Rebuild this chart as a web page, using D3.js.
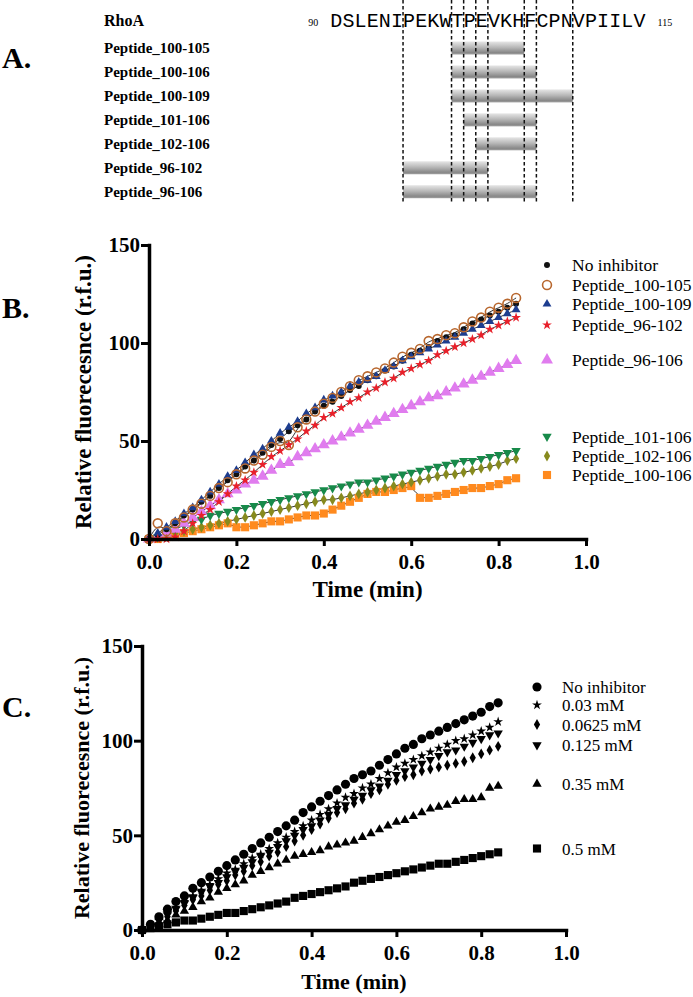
<!DOCTYPE html>
<html>
<head>
<meta charset="utf-8">
<script src="https://cdn.jsdelivr.net/npm/d3@7"></script>
<style>
  body { margin: 0; background: #fff; }
  svg { display: block; }
</style>
</head>
<body>
<div class="fig"></div>
<script>
// ---------------- data ----------------
// Panel A: RhoA residues 90-115 and the peptides tested
var firstResidue = 90;
var residueSeq = ["D","S","L","E","N","I","P","E","K","W","T","P","E","V","K","H","F","C","P","N","V","P","I","I","L","V"];
var peptideNames = ["Peptide_100-105","Peptide_100-106","Peptide_100-109","Peptide_101-106","Peptide_102-106","Peptide_96-102","Peptide_96-106"];
var peptideStart = [100, 100, 100, 101, 102, 96, 96];
var peptideEnd   = [105, 106, 109, 106, 106, 102, 106];

// Time points (min), shared by all kinetic traces
var timeMin = [0,0.02,0.04,0.06,0.08,0.10,0.12,0.14,0.16,0.18,
               0.20,0.22,0.24,0.26,0.28,0.30,0.32,0.34,0.36,0.38,
               0.40,0.42,0.44,0.46,0.48,0.50,0.52,0.54,0.56,0.58,
               0.60,0.62,0.64,0.66,0.68,0.70,0.72,0.74,0.76,0.78,
               0.80,0.82,0.84];

// Panel B: relative fluorescence (r.f.u.)
var noInhibitorB = [0,2,5,8,12,15,19,22,26,30, 33,37,40,44,48,51,55,58,61,65,
                    68,70,73,76,78,81,83,86,88,91, 94,96,98,101,103,104,107,110,112,114, 116,118,120];
var pep100_105 = [0,8,4,8,11,15,18,22,26,29, 33,36,40,43,47,50,48,57,61,65,
                  69,72,75,78,81,83,85,87,90,93, 95,97,101,102,104,105,108,111,113,116, 118,120,123];
var pep100_109 = [0,3,6,9,13,16,20,24,28,32, 35,39,43,46,50,54,57,60,64,67,
                  71,73,75,78,80,81,83,86,88,91, 93,95,97,99,101,103,105,107,109,111, 113,115,117];
var pep96_102 = [0,0,0,1,4,8,12,15,19,23, 27,30,34,38,42,45,48,51,55,58,
                 62,64,67,70,72,75,77,80,82,85, 87,89,91,94,96,98,100,102,104,107, 109,111,113];
var pep96_106 = [0,1,3,5,8,11,14,17,20,23, 25,28,30,32,35,38,39,42,44,46,
                 48,50,52,54,56,58,60,62,64,66, 68,70,72,73,75,77,79,81,83,85, 87,89,91];
var pep101_106 = [0,1,3,5,7,9,10,12,13,14, 15,16,17,18,19,20,21,22,23,24,
                  25,26,27,28,29,29,30,31,32,33, 34,35,36,37,38,39,40,40,41,42, 43,44,45];
var pep102_106 = [0,1,2,3,4,5,6,7,8,9, 10,11,12,13,14,15,16,17,18,19,
                  20,20,21,22,23,24,25,26,27,28, 29,30,31,32,33,33,34,35,36,37, 38,40,41];
var pep100_106 = [0,0,1,2,3,4,5,6,7,8, 6,6,7,8,9,9,10,11,12,12,
                  13,15,17,19,21,23,24,24,25,26, 27,21,21,22,23,24,25,26,26,27, 28,30,31];

// Panel C: concentrations of inhibitor peptide
var noInhibitorC = [0,3,7,11,15,18,22,25,28,31, 34,37,40,43,46,49,52,55,58,62,
                    65,68,71,74,77,80,82,84,87,90, 93,96,98,101,103,105,107,109,111,113, 115,118,120];
var conc003 = [0,2,5,9,12,15,18,21,24,27, 30,32,35,38,40,43,46,49,52,55,
               58,61,64,67,70,72,75,77,80,83, 86,88,90,92,94,96,98,100,101,103, 105,107,110];
var conc00625 = [0,2,4,7,10,13,16,18,21,24, 26,29,31,34,36,39,41,44,47,50,
                 53,56,59,62,64,67,69,72,74,77, 79,81,82,84,85,86,87,88,89,91, 93,95,97];
var conc0125 = [0,2,5,8,11,14,17,20,23,25, 28,31,33,36,39,41,44,47,50,53,
                55,58,61,64,66,69,71,74,76,79, 82,84,86,88,90,92,94,95,97,99, 101,103,104];
var conc035 = [0,1,3,5,8,10,12,15,17,20, 22,24,26,29,31,33,35,37,39,40,
               41,42,44,45,46,47,49,51,53,55, 57,58,60,62,64,65,66,68,69,69, 70,75,76];
var conc05 = [0,1,2,3,4,5,5,6,7,8, 9,9,10,11,12,13,14,15,17,18,
              19,20,21,22,23,25,26,27,28,29, 30,31,32,33,34,35,35,36,37,38, 39,40,41];

var xTicks = [0, 0.2, 0.4, 0.6, 0.8, 1.0];
var yTicks = [0, 50, 100, 150];

// ---------------- drawing ----------------
var serif = '"Liberation Serif","Times New Roman",serif';

var svg = d3.select(".fig")
  .append("svg")
  .attr("width", 693)
  .attr("height", 997)
  .attr("font-family", serif);

// panel letters
[["A.", 68], ["B.", 318], ["C.", 717]].forEach(function(p) {
  svg.append("text").attr("x", 2).attr("y", p[1])
    .attr("font-size", 30).attr("font-weight", "bold").text(p[0]);
});

// ---- Panel A ----
var xRes = d3.scaleLinear().domain([firstResidue, firstResidue + residueSeq.length]).range([330.3, 645.5]);
var yRow = d3.scalePoint().domain(peptideNames).range([48, 191.7]);

var grad = svg.append("defs").append("linearGradient")
  .attr("id", "barGrad").attr("x1", 0).attr("y1", 0).attr("x2", 0).attr("y2", 1);
grad.append("stop").attr("offset", "0%").attr("stop-color", "#e6e6e6");
grad.append("stop").attr("offset", "45%").attr("stop-color", "#b8b8b8");
grad.append("stop").attr("offset", "85%").attr("stop-color", "#888888");
grad.append("stop").attr("offset", "100%").attr("stop-color", "#a0a0a0");

var gA = svg.append("g");

gA.append("text").attr("x", 104).attr("y", 26)
  .attr("font-size", 16).attr("font-weight", "bold").text("RhoA");

gA.append("text").attr("x", xRes(firstResidue) - 12).attr("y", 26)
  .attr("text-anchor", "end").attr("font-size", 10).text(firstResidue);
gA.append("text").attr("x", xRes(firstResidue + residueSeq.length) + 12).attr("y", 26)
  .attr("font-size", 10).text(firstResidue + residueSeq.length - 1);

gA.selectAll(".res")
  .data(residueSeq)
  .enter()
  .append("text")
    .attr("class", "res")
    .attr("x", function(d, i) { return xRes(firstResidue + i + 0.5); })
    .attr("y", 27)
    .attr("text-anchor", "middle")
    .attr("font-family", '"Liberation Mono","Courier New",monospace')
    .attr("font-size", 20)
    .text(function(d) { return d; });

// peptide bars
gA.selectAll(".bar")
  .data(peptideNames)
  .enter()
  .append("rect")
    .attr("x", function(d, i) { return xRes(peptideStart[i]); })
    .attr("width", function(d, i) { return xRes(peptideEnd[i] + 1) - xRes(peptideStart[i]); })
    .attr("y", function(d) { return yRow(d) - 6.5; })
    .attr("height", 13)
    .attr("fill", "url(#barGrad)");

gA.selectAll(".plabel")
  .data(peptideNames)
  .enter()
  .append("text")
    .attr("x", 104)
    .attr("y", function(d) { return yRow(d) + 5; })
    .attr("font-size", 15)
    .attr("font-weight", "bold")
    .text(function(d) { return d; });

// dashed guides at every peptide boundary
var bounds = Array.from(new Set(peptideStart.concat(peptideEnd.map(function(e) { return e + 1; })))).sort(d3.ascending);
gA.selectAll(".guide")
  .data(bounds)
  .enter()
  .append("line")
    .attr("x1", function(d) { return xRes(d); })
    .attr("x2", function(d) { return xRes(d); })
    .attr("y1", 0)
    .attr("y2", 203)
    .attr("stroke", "#111")
    .attr("stroke-width", 1.5)
    .attr("stroke-dasharray", "3.5,2.5");

// ---- shared axis helper ----
function drawAxes(g, x, y, yTitle, yTitleX, yTitleSize, xTitleY, xTitleSize) {
  var ax = g.append("g")
    .attr("transform", "translate(0," + y(0) + ")")
    .call(d3.axisBottom(x).tickValues(xTicks).tickFormat(d3.format(".1f"))
      .tickSize(7).tickSizeOuter(0).tickPadding(8));
  var ay = g.append("g")
    .attr("transform", "translate(" + x(0) + ",0)")
    .call(d3.axisLeft(y).tickValues(yTicks).tickSize(8).tickSizeOuter(0).tickPadding(1));
  [ax, ay].forEach(function(a) {
    a.attr("font-family", serif).attr("font-size", 21).attr("font-weight", "bold");
    a.select(".domain").attr("stroke", "#000").attr("stroke-width", 3.5).attr("stroke-linecap", "square");
    a.selectAll(".tick line").attr("stroke", "#000").attr("stroke-width", 3);
    a.selectAll(".tick text").attr("fill", "#000");
  });
  var r = y.range();
  g.append("text")
    .attr("transform", "translate(" + yTitleX + "," + ((r[0] + r[1]) / 2) + ") rotate(-90)")
    .attr("text-anchor", "middle")
    .attr("font-size", yTitleSize)
    .attr("font-weight", "bold")
    .text(yTitle);
  var xr = x.range();
  g.append("text")
    .attr("x", (xr[0] + xr[1]) / 2)
    .attr("y", xTitleY)
    .attr("text-anchor", "middle")
    .attr("font-size", xTitleSize)
    .attr("font-weight", "bold")
    .text("Time (min)");
}

function drawSeries(g, x, y, s) {
  var sym = d3.symbol().type(s.type).size(s.size);
  g.append("g")
    .selectAll("path")
    .data(s.data)
    .enter()
    .append("path")
      .attr("d", sym)
      .attr("transform", function(d, i) {
        return "translate(" + x(timeMin[i]) + "," + y(d) + ")" + (s.down ? " rotate(180)" : "");
      })
      .attr("fill", s.open ? "none" : s.color)
      .attr("stroke", s.open ? s.color : "none")
      .attr("stroke-width", s.open ? 1.6 : 0);
}

function drawLegend(g, list, rows, mx, tx, fontSize) {
  list.forEach(function(s, i) {
    var sym = d3.symbol().type(s.type).size(s.size);
    g.append("path")
      .attr("d", sym)
      .attr("transform", "translate(" + mx + "," + rows[i] + ")" + (s.down ? " rotate(180)" : ""))
      .attr("fill", s.open ? "none" : s.color)
      .attr("stroke", s.open ? s.color : "none")
      .attr("stroke-width", s.open ? 1.6 : 0);
    g.append("text")
      .attr("x", tx)
      .attr("y", rows[i] + 6)
      .attr("font-size", fontSize)
      .text(s.name);
  });
}

// ---- Panel B ----
var xB = d3.scaleLinear().domain([0, 1]).range([149, 586]);
var yB = d3.scaleLinear().domain([0, 150]).range([539, 245]);
var gB = svg.append("g");

var seriesB = [
  { name: "No inhibitor",    data: noInhibitorB, type: d3.symbolCircle,   size: 28, color: "#111111" },
  { name: "Peptide_100-105", data: pep100_105,   type: d3.symbolCircle,   size: 62, color: "#b8672e", open: true },
  { name: "Peptide_100-109", data: pep100_109,   type: d3.symbolTriangle, size: 34, color: "#1d3d8f" },
  { name: "Peptide_96-102",  data: pep96_102,    type: d3.symbolStar,     size: 30, color: "#e8202a" },
  { name: "Peptide_96-106",  data: pep96_106,    type: d3.symbolTriangle, size: 62, color: "#e07cee" },
  { name: "Peptide_101-106", data: pep101_106,   type: d3.symbolTriangle, size: 38, color: "#178a4a", down: true },
  { name: "Peptide_102-106", data: pep102_106,   type: d3.symbolDiamond,  size: 34, color: "#878a1e" },
  { name: "Peptide_100-106", data: pep100_106,   type: d3.symbolSquare,   size: 66, color: "#ff8a1e" }
];

// fitted curves under the markers
var fit = d3.line()
  .x(function(d, i) { return xB(timeMin[i]); })
  .y(function(d) { return yB(d); })
  .curve(d3.curveBasis);
seriesB.forEach(function(s) {
  gB.append("path").attr("d", fit(s.data)).attr("fill", "none")
    .attr("stroke", "#333").attr("stroke-width", 1);
});

[7, 6, 5, 4, 0, 2, 3, 1].forEach(function(k) { drawSeries(gB, xB, yB, seriesB[k]); });
drawAxes(gB, xB, yB, "Relative fluorecesnce (r.f.u.)", 91, 23, 597, 23);
drawLegend(gB, seriesB, [265, 285, 304, 325, 360, 436.5, 456, 475], 547, 572, 17.5);

// ---- Panel C ----
var xC = d3.scaleLinear().domain([0, 1]).range([142, 566]);
var yC = d3.scaleLinear().domain([0, 150]).range([930, 646]);
var gC = svg.append("g");

var seriesC = [
  { name: "No inhibitor", data: noInhibitorC, type: d3.symbolCircle,   size: 66, color: "#000" },
  { name: "0.03 mM",      data: conc003,      type: d3.symbolStar,     size: 30, color: "#000" },
  { name: "0.0625 mM",    data: conc00625,    type: d3.symbolDiamond,  size: 34, color: "#000" },
  { name: "0.125 mM",     data: conc0125,     type: d3.symbolTriangle, size: 38, color: "#000", down: true },
  { name: "0.35 mM",      data: conc035,      type: d3.symbolTriangle, size: 38, color: "#000" },
  { name: "0.5 mM",       data: conc05,       type: d3.symbolSquare,   size: 66, color: "#000" }
];

seriesC.forEach(function(s) { drawSeries(gC, xC, yC, s); });
drawAxes(gC, xC, yC, "Relative fluorecesnce (r.f.u.)", 89, 22, 989, 22);
drawLegend(gC, seriesC, [687, 705, 724.5, 745, 784, 848.5], 537, 562, 17);
</script>
</body>
</html>
